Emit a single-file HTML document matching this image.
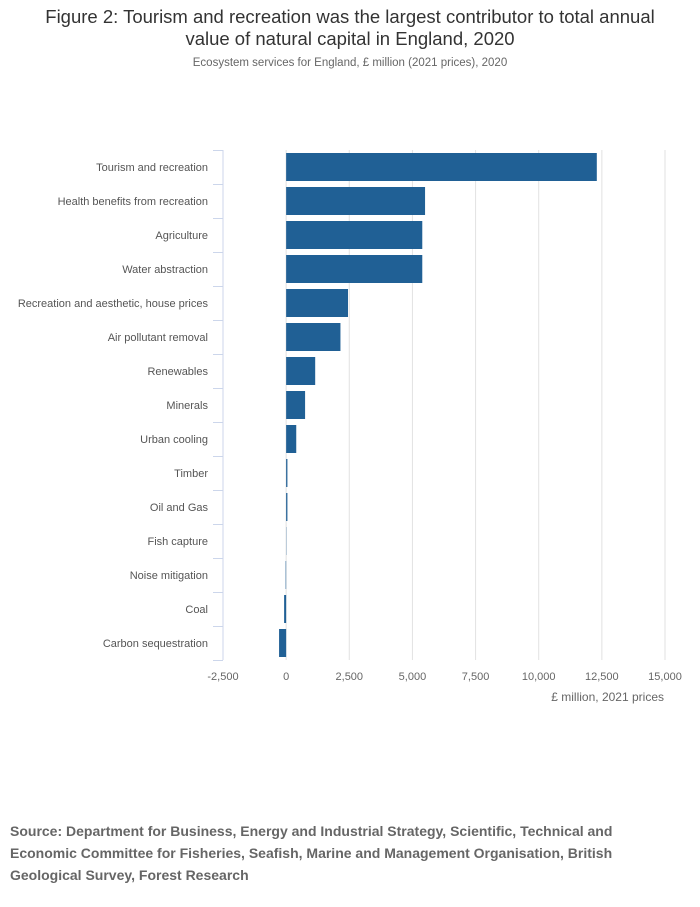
<!DOCTYPE html>
<html><head><meta charset="utf-8"><style>
body{margin:0;width:700px;height:907px;background:#fff;font-family:"Liberation Sans",sans-serif;overflow:hidden}
#title{position:absolute;left:0;width:700px;top:6px;text-align:center;font-size:18.5px;line-height:22px;color:#333;white-space:nowrap}
#sub{position:absolute;left:0;width:700px;top:57px;text-align:center;font-size:11.5px;color:#666}
#src{position:absolute;left:10px;top:820px;width:690px;font-size:14px;line-height:22px;font-weight:bold;color:#666;white-space:nowrap}
svg{position:absolute;left:0;top:0}
</style></head><body>
<div id="title">Figure 2: Tourism and recreation was the largest contributor to total annual<br>value of natural capital in England, 2020</div>
<div id="sub">Ecosystem services for England, £ million (2021 prices), 2020</div>
<svg id="chart" width="700" height="907"></svg>
<div id="src">Source: Department for Business, Energy and Industrial Strategy, Scientific, Technical and<br>Economic Committee for Fisheries, Seafish, Marine and Management Organisation, British<br>Geological Survey, Forest Research</div>
<script>
const categories=["Tourism and recreation","Health benefits from recreation","Agriculture","Water abstraction","Recreation and aesthetic, house prices","Air pollutant removal","Renewables","Minerals","Urban cooling","Timber","Oil and Gas","Fish capture","Noise mitigation","Coal","Carbon sequestration"];
const values=[12300,5500,5390,5390,2450,2150,1150,750,400,50,50,10,-20,-80,-280];
const ticks=[-2500,0,2500,5000,7500,10000,12500,15000];
const tickLabels=["-2,500","0","2,500","5,000","7,500","10,000","12,500","15,000"];
const NS="http://www.w3.org/2000/svg";
const svg=document.getElementById('chart');
const x0=223,x1=665,xmin=-2500,xmax=15000,top0=150,band=34;
function x(v){return x0+(v-xmin)/(xmax-xmin)*(x1-x0);}
function y(i){return top0+i*band;}
function mk(t,a,p){const e=document.createElementNS(NS,t);for(const k in a)e.setAttribute(k,a[k]);(p||svg).appendChild(e);return e;}
const bottom=y(categories.length);
ticks.forEach((t,i)=>{
  if(i>0){const g=mk('line',{x1:x(t),x2:x(t),y1:top0,y2:bottom,stroke:'#e2e2e2','stroke-width':1});
  
  }
  const l=mk('text',{x:x(t),y:680,'text-anchor':'middle','font-size':11,fill:'#666'});
  l.textContent=tickLabels[i];
  
  
});
const ax=mk('line',{x1:x0,x2:x0,y1:top0,y2:bottom,stroke:'#ccd6eb','stroke-width':1});


for(let i=0;i<=categories.length;i++){
  const tk=mk('line',{x1:x0-10,x2:x0,y1:y(i)+0.5,y2:y(i)+0.5,stroke:'#ccd6eb','stroke-width':1});
  
  
}
categories.forEach((c,i)=>{
  const l=mk('text',{x:208,y:y(i)+band/2+4,'text-anchor':'end','font-size':11,fill:'#555'});
  l.textContent=c;
  
  
  const v=values[i];
  const a=Math.min(x(0),x(v)),w=Math.abs(x(v)-x(0));
  const r=mk('rect',{x:a,y:y(i)+3,width:w,height:28,fill:'#206095'});
  
  
});
const at=mk('text',{x:664,y:701,'text-anchor':'end','font-size':12,fill:'#666'});
at.textContent='£ million, 2021 prices';


</script>
</body></html>
